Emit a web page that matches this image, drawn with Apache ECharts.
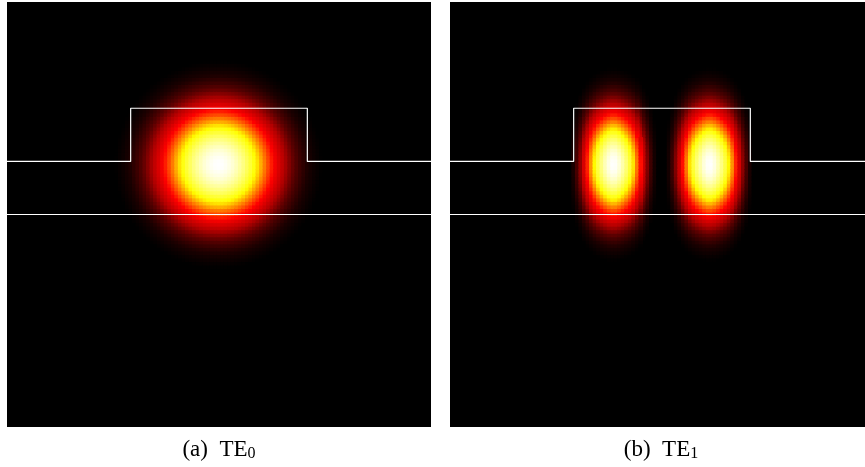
<!DOCTYPE html>
<html>
<head>
<meta charset="utf-8">
<script src="https://cdn.jsdelivr.net/npm/echarts@6/dist/echarts.min.js"></script>
<style>
  html, body { margin: 0; padding: 0; background: #fff; }
  #chart { width: 865px; height: 467px; }
</style>
</head>
<body>
<div id="chart"></div>
<script>
// waveguide cross-section (um), same for both panels
var ribEdgeX = [0, 1.75, 1.75, 4.25, 4.25, 6];
var ribEdgeY = [3.75, 3.75, 4.5, 4.5, 3.75, 3.75];
var bottomEdgeX = [0, 6];
var bottomEdgeY = [3.0, 3.0];

// sampling of the field profiles
var sampleStep = 0.05;
var te0XFrom = 1.50;
var te0YFrom = 2.21;
var te1XFrom = 1.65;
var te1YFrom = 2.21;

// TE0, horizontal cut through the peak (x = 1.50 .. 4.50)
var te0ProfileX = [
  .044, .054, .066, .080, .096, .114, .135, .159, .186, .216, .249, .286, .325, .367, .411,
  .458, .506, .556, .607, .657, .707, .755, .801, .844, .882, .917, .946, .969, .986, .997,
  1.0,
  .997, .986, .969, .946, .917, .882, .844, .801, .755, .707, .657, .607, .556, .506, .458,
  .411, .367, .325, .286, .249, .216, .186, .159, .135, .114, .096, .080, .066, .054, .044
];
// TE0, vertical cut through the peak (y = 2.21 .. 5.21)
var te0ProfileY = [
  .044, .054, .066, .080, .096, .114, .135, .159, .186, .216, .249, .286, .325, .367, .411,
  .458, .506, .556, .607, .657, .707, .755, .801, .844, .882, .917, .946, .969, .986, .997,
  1.0,
  .997, .986, .969, .946, .917, .882, .844, .801, .755, .707, .657, .607, .556, .506, .458,
  .411, .367, .325, .286, .249, .216, .186, .159, .135, .114, .096, .080, .066, .054, .044
];

// TE1, horizontal cut through both lobes (x = 1.65 .. 4.35)
var te1ProfileX = [
  .015, .05, .105, .175, .26, .36, .465, .58, .68, .77, .845, .91, .965, .997,
  .993, .955, .895, .83, .755, .66, .555, .445, .34, .245, .16, .095, .035,
  0,
  .035, .095, .16, .245, .34, .445, .555, .66, .755, .83, .895, .955, .993,
  .997, .965, .91, .845, .77, .68, .58, .465, .36, .26, .175, .105, .05, .015
];
// TE1, vertical cut through a lobe (y = 2.21 .. 5.21)
var te1ProfileY = [
  .028, .035, .044, .055, .068, .083, .101, .121, .145, .172, .203, .237, .275, .316, .360,
  .408, .458, .510, .563, .617, .671, .724, .775, .823, .866, .905, .938, .965, .984, .996,
  1.0,
  .996, .984, .965, .938, .905, .866, .823, .775, .724, .671, .617, .563, .510, .458, .408,
  .360, .316, .275, .237, .203, .172, .145, .121, .101, .083, .068, .055, .044, .035, .028
];

// colour scale (black - red - yellow - white)
var hotStops = [
  [0, '#000000'], [0.05, '#000000'], [0.11, '#1c0000'], [0.20, '#5a0000'], [0.30, '#b40000'],
  [0.43, '#ff0000'], [0.56, '#ff8000'], [0.684, '#ffff00'], [0.80, '#ffff60'], [0.92, '#ffffc0'], [1, '#ffffff']
];

function hexRgb(h) {
  return [parseInt(h.substr(1, 2), 16), parseInt(h.substr(3, 2), 16), parseInt(h.substr(5, 2), 16)];
}
function colorList(stops, n) {
  var out = [];
  for (var k = 0; k < n; k++) {
    var t = k / (n - 1);
    var i = 0;
    while (i < stops.length - 2 && t > stops[i + 1][0]) i++;
    var a = stops[i], b = stops[i + 1];
    var f = (t - a[0]) / (b[0] - a[0]);
    var ca = hexRgb(a[1]), cb = hexRgb(b[1]);
    var c = ca.map(function (v, j) { return Math.round(v + (cb[j] - v) * f); });
    out.push('rgb(' + c.join(',') + ')');
  }
  return out;
}

function buildField(profX, xFrom, profY, yFrom) {
  var data = [];
  for (var i = 0; i < profX.length; i++) {
    for (var j = 0; j < profY.length; j++) {
      var v = profX[i] * profY[j];
      if (v > 0) {
        data.push([+(xFrom + i * sampleStep).toFixed(3), +(yFrom + j * sampleStep).toFixed(3), v]);
      }
    }
  }
  return data;
}

function pairs(xs, ys) {
  return xs.map(function (x, i) { return [x, ys[i]]; });
}

function renderCell(params, api) {
  var p = api.coord([api.value(0), api.value(1)]);
  var s = api.size([sampleStep, sampleStep]);
  return {
    type: 'rect',
    shape: { x: p[0] - s[0] / 2 - 0.5, y: p[1] - s[1] / 2 - 0.5, width: s[0] + 1, height: s[1] + 1 },
    style: { fill: api.visual('color') }
  };
}

var serif = 'Liberation Serif';
var captionRich = {
  m: { fontFamily: serif, fontSize: 23, fill: '#000', lineHeight: 24 },
  s: { fontFamily: serif, fontSize: 16, fill: '#000', lineHeight: 16, verticalAlign: 'bottom' }
};

function hiddenAxis(idx, max) {
  return { type: 'value', gridIndex: idx, min: 0, max: max, show: false };
}

function outline(idx, xs, ys) {
  return {
    type: 'line', xAxisIndex: idx, yAxisIndex: idx,
    data: pairs(xs, ys), symbol: 'none', silent: true, z: 5,
    lineStyle: { color: '#fff', width: 1.2 }
  };
}

var chart = echarts.init(document.getElementById('chart'), null, { renderer: 'canvas' });

var option = {
  animation: false,
  backgroundColor: '#fff',
  grid: [
    { left: 7, top: 2, width: 424, height: 425, show: true, backgroundColor: '#000', borderWidth: 0 },
    // right panel is cut off by the page edge
    { left: 450, top: 2, width: 415, height: 425, show: true, backgroundColor: '#000', borderWidth: 0 }
  ],
  xAxis: [hiddenAxis(0, 6), hiddenAxis(1, 5.873)],
  yAxis: [hiddenAxis(0, 6), hiddenAxis(1, 6)],
  visualMap: {
    show: false, type: 'continuous', min: 0, max: 1, dimension: 2, seriesIndex: [0, 1],
    inRange: { color: colorList(hotStops, 101) }
  },
  graphic: [
    { type: 'text', x: 219, y: 450, style: { text: '{m|(a)  TE}{s|0}', rich: captionRich, align: 'center', verticalAlign: 'middle' } },
    { type: 'text', x: 661, y: 450, style: { text: '{m|(b)  TE}{s|1}', rich: captionRich, align: 'center', verticalAlign: 'middle' } }
  ],
  series: [
    {
      type: 'custom', xAxisIndex: 0, yAxisIndex: 0, renderItem: renderCell, clip: true,
      encode: { x: 0, y: 1 }, silent: true,
      data: buildField(te0ProfileX, te0XFrom, te0ProfileY, te0YFrom)
    },
    {
      type: 'custom', xAxisIndex: 1, yAxisIndex: 1, renderItem: renderCell, clip: true,
      encode: { x: 0, y: 1 }, silent: true,
      data: buildField(te1ProfileX, te1XFrom, te1ProfileY, te1YFrom)
    },
    outline(0, ribEdgeX, ribEdgeY),
    outline(0, bottomEdgeX, bottomEdgeY),
    outline(1, ribEdgeX, ribEdgeY),
    outline(1, bottomEdgeX, bottomEdgeY)
  ]
};

chart.setOption(option);
</script>
</body>
</html>
